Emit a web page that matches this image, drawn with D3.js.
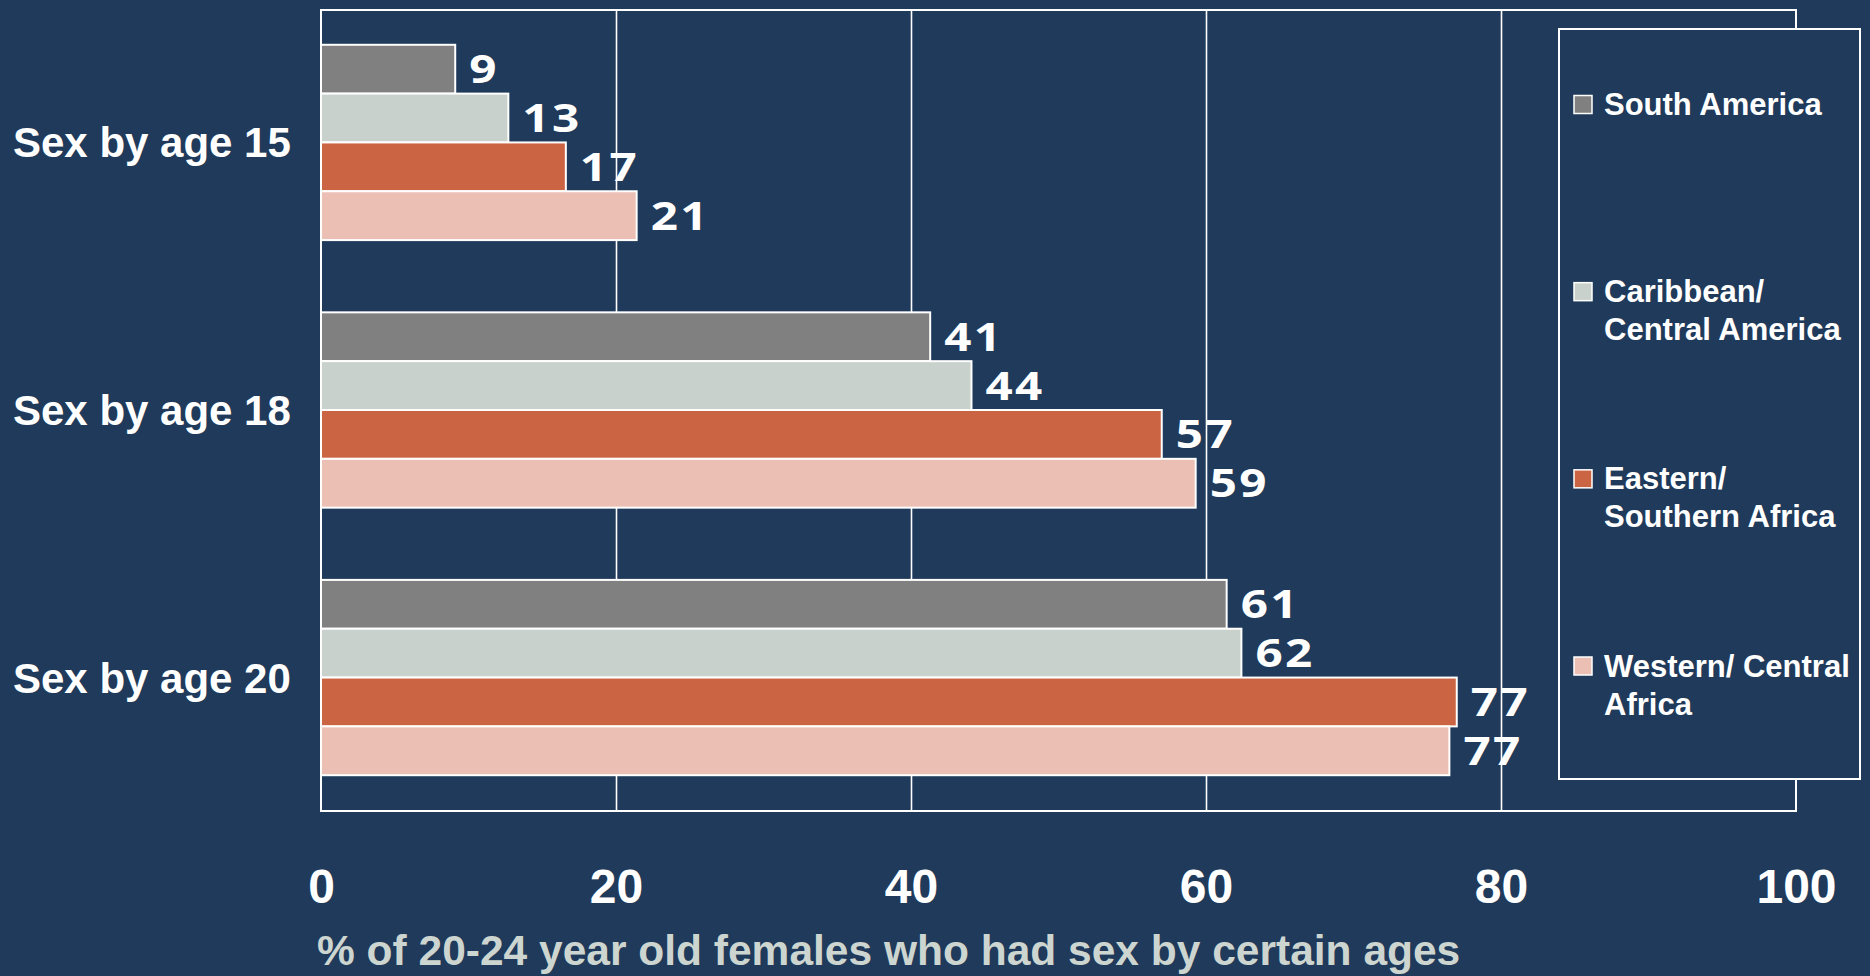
<!DOCTYPE html>
<html>
<head>
<meta charset="utf-8">
<script src="https://cdn.jsdelivr.net/npm/d3@7/dist/d3.min.js"></script>
<style>
  html, body { margin: 0; padding: 0; background: #1f3a5a; }
  svg { display: block; }
</style>
</head>
<body>
<svg id="chart" width="1870" height="976"></svg>
<script>
// ---- Data ----
const categories = ["Sex by age 15", "Sex by age 18", "Sex by age 20"];
const seriesNames = ["South America", "Caribbean/ Central America", "Eastern/ Southern Africa", "Western/ Central Africa"];
const legendLines = [["South America"], ["Caribbean/", "Central America"], ["Eastern/", "Southern Africa"], ["Western/ Central", "Africa"]];
const southAmerica   = [9.1, 41.3, 61.4];
const caribbeanCA    = [12.7, 44.1, 62.4];
const easternSA      = [16.6, 57.0, 77.0];
const westernCA      = [21.4, 59.3, 76.5];
const xTicks = [0, 20, 40, 60, 80, 100];
const xTitle = "% of 20-24 year old females who had sex by certain ages";

const seriesValues = [southAmerica, caribbeanCA, easternSA, westernCA];
const colors = ["#808080", "#c8d1cb", "#cb6442", "#ebbfb4"];

// ---- Layout ----
const svg = d3.select("#chart");
const bg = "#1f3a5a";
svg.append("rect").attr("width", 1870).attr("height", 976).attr("fill", bg);

const x = d3.scaleLinear().domain([0, 100]).range([321, 1796]);
const y = d3.scaleBand().domain(categories).range([10, 810]).paddingInner(0.27).paddingOuter(0.13);
const ySub = d3.scaleBand().domain(seriesNames).range([0, y.bandwidth()]);
const frameTop = 10, frameBottom = 811;

// gridlines
const grid = svg.append("g").attr("transform", `translate(0,${frameBottom})`)
  .call(d3.axisBottom(x).tickValues(xTicks.slice(1, -1)).tickSize(-(frameBottom - frameTop)).tickFormat(""));
grid.select(".domain").remove();
grid.selectAll(".tick line").attr("stroke", "#ffffff").attr("stroke-width", 1.6);

// frame
svg.append("rect")
  .attr("x", x(0)).attr("y", frameTop)
  .attr("width", x(100) - x(0)).attr("height", frameBottom - frameTop)
  .attr("fill", "none").attr("stroke", "#ffffff").attr("stroke-width", 2);

// bars
const data = [];
categories.forEach((c, ci) => {
  seriesNames.forEach((s, si) => {
    data.push({ cat: c, series: s, si, value: seriesValues[si][ci] });
  });
});

const groups = svg.append("g");
groups.selectAll("rect.bar").data(data).enter().append("rect")
  .attr("class", "bar")
  .attr("x", x(0))
  .attr("y", d => y(d.cat) + ySub(d.series))
  .attr("width", d => x(d.value) - x(0))
  .attr("height", ySub.bandwidth())
  .attr("fill", d => colors[d.si])
  .attr("stroke", "#ffffff")
  .attr("stroke-width", 2);

// value labels (wide bold sans, horizontally stretched as in the original)
groups.selectAll("text.val").data(data).enter().append("text")
  .attr("class", "val")
  .attr("transform", d => `translate(${x(d.value) + 14},${y(d.cat) + ySub(d.series) + ySub.bandwidth() / 2}) scale(1.22,1)`)
  .attr("dy", "0.36em")
  .attr("fill", "#ffffff")
  .attr("font-family", "Open Sans, sans-serif")
  .attr("font-weight", "bold")
  .attr("font-size", 39)
  .attr("letter-spacing", 2)
  .text(d => d3.format(".0f")(d.value));

// category labels
svg.selectAll("text.cat").data(categories).enter().append("text")
  .attr("class", "cat")
  .attr("x", 13)
  .attr("y", d => y(d) + y.bandwidth() / 2 + 15)
  .attr("fill", "#ffffff")
  .attr("font-family", "Liberation Sans, Arial, sans-serif")
  .attr("font-weight", "bold")
  .attr("font-size", 42)
  .text(d => d);

// x axis tick labels
const xAxis = svg.append("g").attr("transform", `translate(0,${frameBottom})`)
  .call(d3.axisBottom(x).tickValues(xTicks).tickSize(0).tickPadding(58).tickFormat(d3.format("d")));
xAxis.select(".domain").remove();
xAxis.selectAll("text")
  .attr("fill", "#ffffff")
  .attr("font-family", "Liberation Sans, Arial, sans-serif")
  .attr("font-weight", "bold")
  .attr("font-size", 48);

// x axis title
svg.append("text")
  .attr("x", 317).attr("y", 965)
  .attr("fill", "#cdd5d0")
  .attr("font-family", "Liberation Sans, Arial, sans-serif")
  .attr("font-weight", "bold")
  .attr("font-size", 42.5)
  .text(xTitle);

// legend
const legend = svg.append("g");
legend.append("rect")
  .attr("x", 1559).attr("y", 29).attr("width", 301).attr("height", 750)
  .attr("fill", bg).attr("stroke", "#ffffff").attr("stroke-width", 2);

const legY = d3.scalePoint().domain(seriesNames).range([95.5, 657]);
const items = legend.selectAll("g.item").data(seriesNames).enter().append("g")
  .attr("class", "item")
  .attr("transform", d => `translate(1574,${legY(d)})`);
items.append("rect")
  .attr("width", 18).attr("height", 18)
  .attr("fill", (d, i) => colors[i])
  .attr("stroke", "#ffffff").attr("stroke-width", 1.5);
items.append("text")
  .attr("x", 30).attr("y", 19.5)
  .attr("fill", "#ffffff")
  .attr("font-family", "Liberation Sans, Arial, sans-serif")
  .attr("font-weight", "bold")
  .attr("font-size", 31)
  .each(function (d, i) {
    const t = d3.select(this);
    legendLines[i].forEach((line, li) => {
      t.append("tspan").attr("x", 30).attr("dy", li === 0 ? 0 : 38).text(line);
    });
  });
</script>
</body>
</html>
